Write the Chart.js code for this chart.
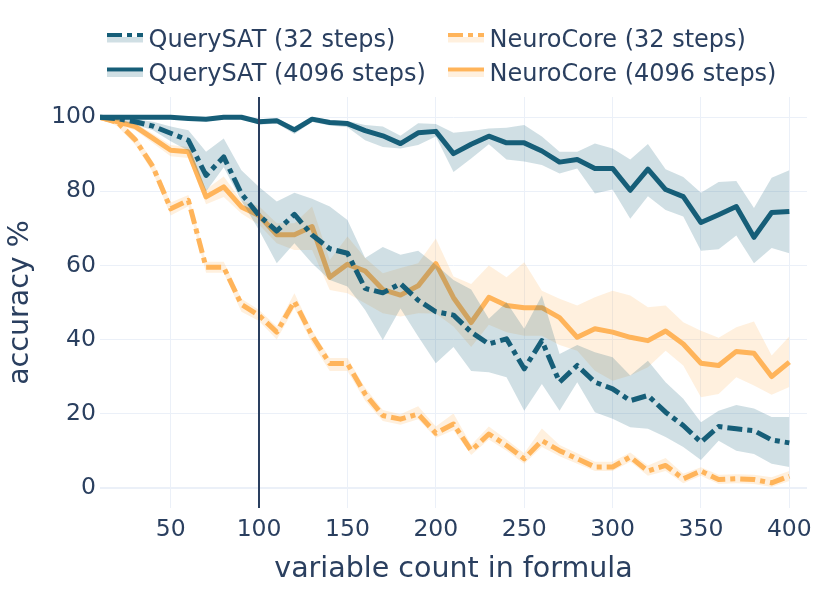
<!DOCTYPE html>
<html>
<head>
<meta charset="utf-8">
<script src="https://cdn.jsdelivr.net/npm/chart.js@4.4.1/dist/chart.umd.min.js"></script>
<style>
  html, body { margin: 0; padding: 0; background: #ffffff; }
  #wrap { position: relative; width: 831px; height: 593px; }
  #chart { position: absolute; left: 0; top: 0; }
  #legend { position: absolute; left: 0; top: 0; pointer-events: none; }
</style>
</head>
<body>
<div id="wrap">
  <canvas id="chart" width="831" height="593"></canvas>
  <svg id="legend" width="831" height="95" xmlns="http://www.w3.org/2000/svg"></svg>
</div>
<script>
// ---------- data ----------
const variableCounts = [10,20,30,40,50,60,70,80,90,100,110,120,130,140,150,160,170,180,190,200,
                        210,220,230,240,250,260,270,280,290,300,310,320,330,340,350,360,370,380,390,400];

const querySat32 = [100,99.6,98.8,97.6,95.7,93.8,84.3,89.3,79.4,73.5,69.3,73.8,68.2,64.5,63.3,53.8,52.6,55.1,50.6,47.5,
                    46.6,42.0,38.8,40.2,32.1,39.7,28.5,33.0,28.5,26.7,23.5,24.9,20.4,16.8,12.3,16.5,15.9,15.4,12.9,12.1];
const querySat32Upper = [100,100,99.5,98.8,97.5,96.5,90.7,94.3,85.7,81.2,77.3,79.6,78,75.9,72.3,62,65,62.9,64,60.2,
                         56.1,53.5,45.6,50.1,42.9,51.9,36.1,38.5,36.6,35.2,30.3,34.3,28.5,24,17.7,20.8,22.3,21.4,19.1,19.1];
const querySat32Lower = [100,99,98,96.5,93.5,91,80,86.5,77.5,69.5,60.6,66,60.6,56.1,54.3,48,39.9,48.4,40.8,33.6,
                         38,31.5,31.2,29.8,20.8,28.0,20.8,28.5,20.4,18.6,16.3,15.9,13.7,11.0,7.5,12.7,10.0,9.1,6.5,5.6];

const querySat4096 = [100,100,100,100,100,99.7,99.5,100,100,98.8,99.1,96.6,99.5,98.6,98.3,96.4,95,92.9,95.8,96.2,
                      90.2,92.7,94.9,93.1,93.1,90.9,87.9,88.6,86.2,86.2,80.3,86.0,80.5,78.6,71.6,73.7,75.9,67.6,74.3,74.6];
const querySat4096Upper = [100,100,100,100,100,100,100,100,100,99.5,99.7,97.5,100,99.3,99,97.9,97.5,95,98.4,98.2,
                           95.8,96.3,97,97.2,97.9,94.8,90.7,90.7,92.9,91.6,88.6,92.8,86,83.9,79.6,82.5,82.8,75.5,83.7,85.7];
const querySat4096Lower = [100,100,100,100,100,99.3,99,99.6,99.6,98,98.3,95.5,98.7,97.8,97.3,93.8,92,91.6,92.5,94.8,
                           85.2,88.9,92.7,88.6,88.1,87.1,84.8,86.2,79.4,80.5,72.6,78.7,75,73.2,64,64.4,68.1,60.6,64.7,63.3];

const neuroCore32 = [100,98.6,93.9,86.6,75.3,77.6,59.5,59.5,49.5,46.5,42,50.3,41,33.5,33.5,25.3,19.5,18.5,19.9,14.7,
                     17.2,10.0,14.5,11.4,7.8,12.7,10.0,7.8,5.6,5.6,8.3,4.5,6.0,2.4,4.5,2.2,2.4,2.2,1.3,3.1];
const neuroCore32Upper = [100,99.5,95,88,77,79,61,61,51,48,43.5,52.5,42.5,35,35,27,21,19.8,22,16.5,
                          20,11.5,16.5,13,9.3,16,11.5,9.3,7,7,9.5,6,8,3.8,5.5,3.5,3.6,3.5,2.8,4.5];
const neuroCore32Lower = [100,97.5,92.5,85,73.5,76,58,58,47.5,45,40,48.5,39,31.5,31.5,23.5,18,17,18.5,13.5,
                          15.5,8.8,13,10,6.5,11,8.5,6.5,4.5,4.5,7,3.2,4.5,1.2,3.2,1,1.2,1,0.2,1.8];

const neuroCore4096 = [100,98.8,97.5,94.3,91.1,90.7,78.5,81.2,75.8,73.5,68.3,68.3,70.5,56.8,60.3,58.5,53.5,52,54.5,60.5,
                       51.3,44.6,51.4,49.2,48.6,48.6,45.9,40.6,42.9,42.0,40.6,39.7,42.3,38.8,33.6,33.0,36.8,36.3,30.0,33.9];
const neuroCore4096Upper = [100,99.5,98.5,95.5,92.5,92,80.5,84,77.5,76,71.4,71.4,75.9,61.5,67.8,62,57.9,59.3,60.6,67.3,
                            57,55,60,56.8,60.9,53.2,51,49.2,51.4,53.2,51.9,48.7,49.2,44.7,42.4,40.5,43.3,44.9,35.7,40.8];
const neuroCore4096Lower = [100,98,96.5,93,89.5,89,76.5,78.5,74,71,66,64.2,64.2,53.4,52.5,49.8,47.1,46.2,47.1,47,
                            43.5,38,44,42,41,41,38.5,37,31.6,28.9,30.3,32.5,37.0,33,24.4,25.3,29.8,27.6,25.1,27.2];

const seriesNames = ['QuerySAT (32 steps)', 'NeuroCore (32 steps)', 'QuerySAT (4096 steps)', 'NeuroCore (4096 steps)'];
const xTickValues = [50,100,150,200,250,300,350,400];
const yTickValues = [0,20,40,60,80,100];
const markerX = [100];
const xAxisTitle = 'variable count in formula';
const yAxisTitle = 'accuracy %';

// ---------- styles ----------
const TEAL = 'rgb(22,94,120)';
const TEAL_BAND = 'rgba(22,94,120,0.2)';
const ORANGE = 'rgb(255,180,90)';
const ORANGE_BAND = 'rgba(255,180,90,0.2)';
const TEXT = '#2a3f5f';
const GRID = '#ebf0f8';
const FONT = '"DejaVu Sans", Verdana, sans-serif';
const DASHDOT = [15,5,5,5];

const pts = arr => arr.map((v, i) => ({x: variableCounts[i], y: v}));

function lineDs(label, arr, color, dash) {
  return { label, data: pts(arr), borderColor: color, borderWidth: 5, borderDash: dash || [],
           borderJoinStyle: 'round', borderCapStyle: 'butt', pointRadius: 0, fill: false, tension: 0 };
}
function bandUpper(arr, color) {
  return { label: '_u', data: pts(arr), borderWidth: 0, borderColor: 'rgba(0,0,0,0)', backgroundColor: color,
           pointRadius: 0, fill: '+1', tension: 0 };
}
function bandLower(arr) {
  return { label: '_l', data: pts(arr), borderWidth: 0, borderColor: 'rgba(0,0,0,0)', pointRadius: 0, fill: false, tension: 0 };
}

// dataset index 0 is drawn on top in Chart.js
const datasets = [
  lineDs(seriesNames[2], querySat4096, TEAL),
  bandUpper(querySat4096Upper, TEAL_BAND), bandLower(querySat4096Lower),
  lineDs(seriesNames[0], querySat32, TEAL, DASHDOT),
  bandUpper(querySat32Upper, TEAL_BAND), bandLower(querySat32Lower),
  lineDs(seriesNames[3], neuroCore4096, ORANGE),
  bandUpper(neuroCore4096Upper, ORANGE_BAND), bandLower(neuroCore4096Lower),
  lineDs(seriesNames[1], neuroCore32, ORANGE, DASHDOT),
  bandUpper(neuroCore32Upper, ORANGE_BAND), bandLower(neuroCore32Lower),
];

const markerPlugin = {
  id: 'markerLine',
  afterDatasetsDraw(chart) {
    const {ctx, chartArea, scales} = chart;
    ctx.save();
    ctx.strokeStyle = TEXT;
    ctx.lineWidth = 2;
    markerX.forEach(v => {
      const px = Math.round(scales.x.getPixelForValue(v));
      ctx.beginPath();
      ctx.moveTo(px, chartArea.top);
      ctx.lineTo(px, chartArea.bottom);
      ctx.stroke();
    });
    ctx.restore();
  }
};

new Chart(document.getElementById('chart'), {
  type: 'line',
  data: { datasets },
  plugins: [markerPlugin],
  options: {
    responsive: false,
    animation: false,
    devicePixelRatio: 1,
    layout: { padding: { top: 97, right: 24, bottom: 0, left: 0 } },
    plugins: { legend: { display: false }, tooltip: { enabled: false }, filler: { propagate: false } },
    scales: {
      x: {
        type: 'linear', min: 10, max: 410,
        afterBuildTicks: s => { s.ticks = xTickValues.map(v => ({value: v})); },
        afterFit: s => { s.height = 85; },
        grid: { color: GRID, lineWidth: 1, drawTicks: false },
        border: { display: false },
        ticks: { color: TEXT, font: { family: FONT, size: 23.5 }, padding: 8, maxRotation: 0, autoSkip: false },
        title: { display: true, text: xAxisTitle, color: TEXT, font: { family: FONT, size: 28.5 }, padding: { top: 0, bottom: 6.5 } }
      },
      y: {
        type: 'linear', min: -5.48, max: 105.48,
        afterBuildTicks: s => { s.ticks = yTickValues.map(v => ({value: v})); },
        afterFit: s => { s.width = 100; },
        grid: { color: GRID, lineWidth: c => (c.tick && c.tick.value === 0 ? 2 : 1), drawTicks: false },
        border: { display: false },
        ticks: { color: TEXT, font: { family: FONT, size: 23.5 }, padding: 4 },
        title: { display: true, text: yAxisTitle, color: TEXT, font: { family: FONT, size: 28.5 }, padding: { top: 3.5, bottom: 0 } }
      }
    }
  }
});

// ---------- legend (SVG, real text) ----------
const legendItems = [
  { name: seriesNames[0], color: TEAL, band: TEAL_BAND, dash: DASHDOT, col: 0, row: 0 },
  { name: seriesNames[1], color: ORANGE, band: ORANGE_BAND, dash: DASHDOT, col: 1, row: 0 },
  { name: seriesNames[2], color: TEAL, band: TEAL_BAND, dash: null, col: 0, row: 1 },
  { name: seriesNames[3], color: ORANGE, band: ORANGE_BAND, dash: null, col: 1, row: 1 },
];
const colX = [107, 448];
const rowY = [35, 69.5];
const svg = document.getElementById('legend');
const NS = 'http://www.w3.org/2000/svg';
legendItems.forEach(it => {
  const x0 = colX[it.col], y0 = rowY[it.row];
  const rect = document.createElementNS(NS, 'rect');
  rect.setAttribute('x', x0); rect.setAttribute('y', y0 + 2);
  rect.setAttribute('width', 36); rect.setAttribute('height', 5.5);
  rect.setAttribute('fill', it.band);
  svg.appendChild(rect);
  const ln = document.createElementNS(NS, 'line');
  ln.setAttribute('x1', x0); ln.setAttribute('x2', x0 + 36);
  ln.setAttribute('y1', y0); ln.setAttribute('y2', y0);
  ln.setAttribute('stroke', it.color); ln.setAttribute('stroke-width', 4);
  if (it.dash) ln.setAttribute('stroke-dasharray', it.dash.join(','));
  svg.appendChild(ln);
  const t = document.createElementNS(NS, 'text');
  t.setAttribute('x', x0 + 41.5); t.setAttribute('y', y0 + 11.5);
  t.setAttribute('fill', TEXT);
  t.setAttribute('font-family', 'DejaVu Sans, Verdana, sans-serif');
  t.setAttribute('font-size', '24');
  t.textContent = it.name;
  svg.appendChild(t);
});
</script>
</body>
</html>
